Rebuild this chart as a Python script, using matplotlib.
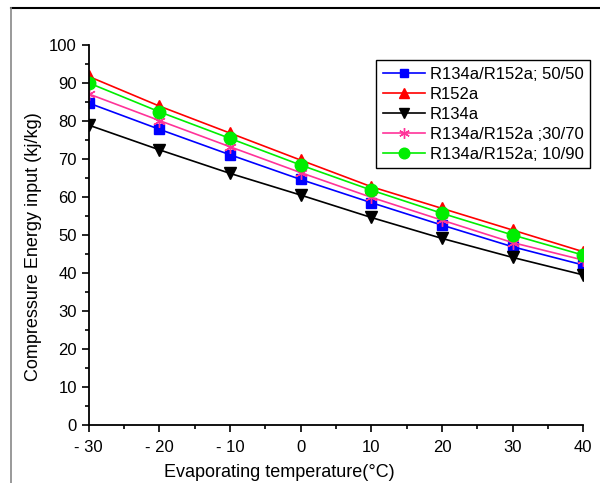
import matplotlib.pyplot as plt
from matplotlib.lines import Line2D
from matplotlib.ticker import MultipleLocator

plt.rcParams["font.family"] = ["Liberation Sans", "DejaVu Sans"]

# Data
temps = [-30, -20, -10, 0, 10, 20, 30, 40]
mix_50_50 = [84.7, 77.8, 71.1, 64.6, 58.5, 52.6, 46.9, 42.1]
r152a = [91.7, 83.9, 76.8, 69.7, 62.7, 57.0, 51.3, 45.6]
r134a = [78.9, 72.4, 66.2, 60.5, 54.6, 49.1, 44.1, 39.5]
mix_30_70 = [87.1, 80.1, 73.2, 66.4, 59.9, 53.9, 48.0, 43.4]
mix_10_90 = [90.0, 82.4, 75.4, 68.4, 61.8, 55.7, 50.0, 44.7]

x_ticks = [-30, -20, -10, 0, 10, 20, 30, 40]
x_tick_labels = ["- 30", "- 20", "- 10", "0", "10", "20", "30", "40"]

fig = plt.figure(figsize=(6, 4.83), dpi=100)
ax = fig.add_axes([0.148, 0.120, 0.824, 0.787])

series = [
    (mix_50_50, "R134a/R152a; 50/50", "#0000ff", "s", 7),
    (r152a, "R152a", "#ff0000", "^", 9),
    (r134a, "R134a", "#000000", "v", 9),
    (mix_30_70, "R134a/R152a ;30/70", "#ff3399", (6, 2, 0), 9),
    (mix_10_90, "R134a/R152a; 10/90", "#00ee00", "o", 9),
]
for vals, label, color, marker, ms in series:
    ax.plot(temps, vals, color=color, marker=marker, markersize=ms,
            markeredgecolor=color, markerfacecolor=color, linewidth=1.2,
            label=label)

ax.set_xlim(-30, 40)
ax.set_ylim(0, 100)
ax.set_xticks(x_ticks)
ax.set_xticklabels(x_tick_labels)
ax.xaxis.set_minor_locator(MultipleLocator(5))
ax.yaxis.set_major_locator(MultipleLocator(10))
ax.yaxis.set_minor_locator(MultipleLocator(5))
ax.tick_params(which="major", direction="out", length=5, width=1.2, labelsize=12)
ax.tick_params(axis="x", which="major", pad=6)
ax.tick_params(which="minor", direction="out", length=3, width=1.2)
ax.spines["top"].set_visible(False)
ax.spines["right"].set_visible(False)
ax.spines["left"].set_linewidth(1.3)
ax.spines["bottom"].set_linewidth(1.3)

ax.set_xlabel("Evaporating temperature(°C)", fontsize=13)
ax.xaxis.set_label_coords(0.385, -0.103)
ax.set_ylabel("Compressure Energy input (kj/kg)", fontsize=13)
ax.yaxis.set_label_coords(-0.095, 0.47)

leg = ax.legend(loc="upper left", bbox_to_anchor=(0.627, 0.876),
                bbox_transform=fig.transFigure, fancybox=False,
                edgecolor="black", fontsize=12, handlelength=2.5,
                handletextpad=0.3, labelspacing=0.3, borderpad=0.4,
                borderaxespad=0, markerscale=0.85, framealpha=1)
leg.get_frame().set_linewidth(1.0)

# outer frame lines
fig.add_artist(Line2D([0.018, 1.0], [0.983, 0.983], color="black", linewidth=1.5))
fig.add_artist(Line2D([0.019, 0.019], [0.0, 0.983], color="#888888", linewidth=1.2))

fig.savefig("out.png", dpi=100)
